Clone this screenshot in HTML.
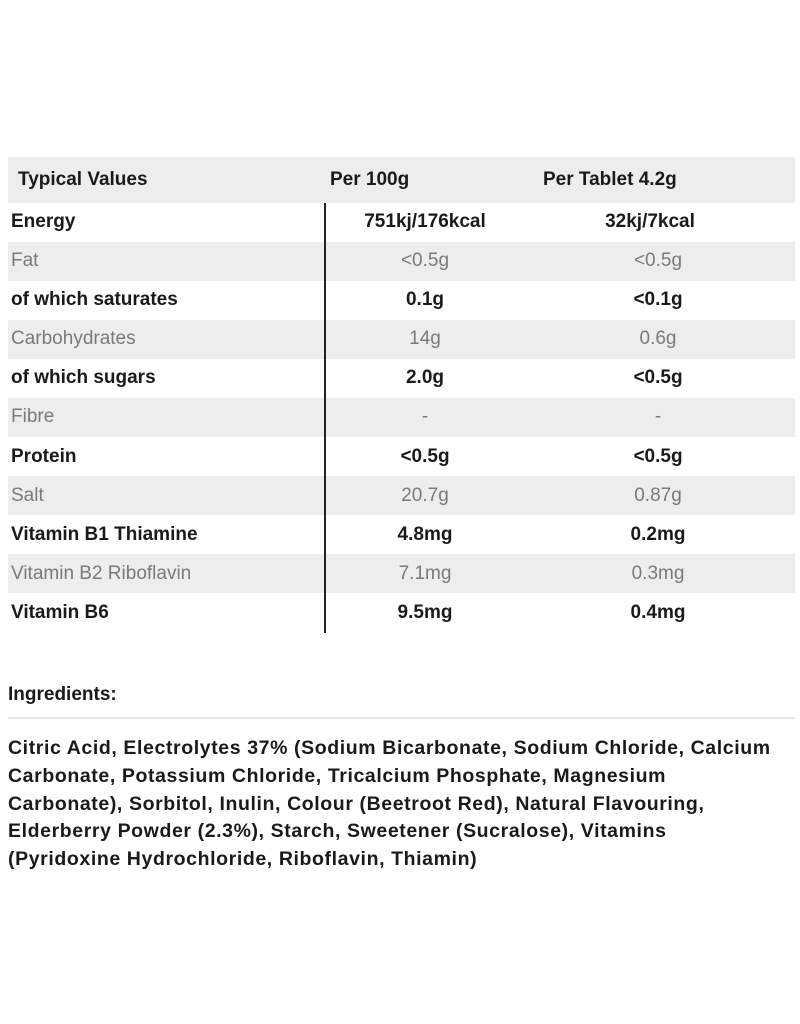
<!DOCTYPE html>
<html><head><style>
body{margin:0;width:800px;height:1024px;background:#fff;position:relative;font-family:"Liberation Sans Narrow","Liberation Sans",sans-serif;overflow:hidden}
.band{position:absolute;left:8px;width:787px;height:39px;background:#eeeded}
.t{position:absolute;font-size:19px;line-height:20px;white-space:nowrap}
.b{font-weight:bold;color:#1a1a1a}
.l{color:#7a7a7a}
.c{transform:translateX(-50%)}
#vl{position:absolute;left:324px;top:203px;width:2px;height:430px;background:#222}
#hl{position:absolute;left:8px;top:717px;width:787px;height:2px;background:#e6e6e6}
.ing{position:absolute;left:8px;top:735px;font-size:19.5px;line-height:27.8px;font-weight:bold;color:#1a1a1a;letter-spacing:0.6px}
</style></head><body>
<div class="band" style="top:157px;height:46px"></div>
<div class="band" style="top:242px"></div>
<div class="band" style="top:320px"></div>
<div class="band" style="top:398px"></div>
<div class="band" style="top:476px"></div>
<div class="band" style="top:554px"></div>
<div id="vl"></div>
<div class="t b" style="left:18px;top:170px">Typical Values</div>
<div class="t b" style="left:330px;top:170px">Per 100g</div>
<div class="t b" style="left:543px;top:170px">Per Tablet 4.2g</div>

<div class="t b" style="left:11px;top:212px">Energy</div><div class="t b c" style="left:425px;top:212px">751kj/176kcal</div><div class="t b c" style="left:650px;top:212px">32kj/7kcal</div>
<div class="t l" style="left:11px;top:251px">Fat</div><div class="t l c" style="left:425px;top:251px">&lt;0.5g</div><div class="t l c" style="left:658px;top:251px">&lt;0.5g</div>
<div class="t b" style="left:11px;top:290px">of which saturates</div><div class="t b c" style="left:425px;top:290px">0.1g</div><div class="t b c" style="left:658px;top:290px">&lt;0.1g</div>
<div class="t l" style="left:11px;top:329px">Carbohydrates</div><div class="t l c" style="left:425px;top:329px">14g</div><div class="t l c" style="left:658px;top:329px">0.6g</div>
<div class="t b" style="left:11px;top:368px">of which sugars</div><div class="t b c" style="left:425px;top:368px">2.0g</div><div class="t b c" style="left:658px;top:368px">&lt;0.5g</div>
<div class="t l" style="left:11px;top:407px">Fibre</div><div class="t l c" style="left:425px;top:407px">-</div><div class="t l c" style="left:658px;top:407px">-</div>
<div class="t b" style="left:11px;top:447px">Protein</div><div class="t b c" style="left:425px;top:447px">&lt;0.5g</div><div class="t b c" style="left:658px;top:447px">&lt;0.5g</div>
<div class="t l" style="left:11px;top:486px">Salt</div><div class="t l c" style="left:425px;top:486px">20.7g</div><div class="t l c" style="left:658px;top:486px">0.87g</div>
<div class="t b" style="left:11px;top:525px">Vitamin B1 Thiamine</div><div class="t b c" style="left:425px;top:525px">4.8mg</div><div class="t b c" style="left:658px;top:525px">0.2mg</div>
<div class="t l" style="left:11px;top:564px">Vitamin B2 Riboflavin</div><div class="t l c" style="left:425px;top:564px">7.1mg</div><div class="t l c" style="left:658px;top:564px">0.3mg</div>
<div class="t b" style="left:11px;top:603px">Vitamin B6</div><div class="t b c" style="left:425px;top:603px">9.5mg</div><div class="t b c" style="left:658px;top:603px">0.4mg</div>

<div class="t b" style="left:8px;top:685px">Ingredients:</div>
<div id="hl"></div>
<div class="ing">Citric Acid, Electrolytes 37% (Sodium Bicarbonate, Sodium Chloride, Calcium<br>Carbonate, Potassium Chloride, Tricalcium Phosphate, Magnesium<br>Carbonate), Sorbitol, Inulin, Colour (Beetroot Red), Natural Flavouring,<br>Elderberry Powder (2.3%), Starch, Sweetener (Sucralose), Vitamins<br>(Pyridoxine Hydrochloride, Riboflavin, Thiamin)</div>
</body></html>
